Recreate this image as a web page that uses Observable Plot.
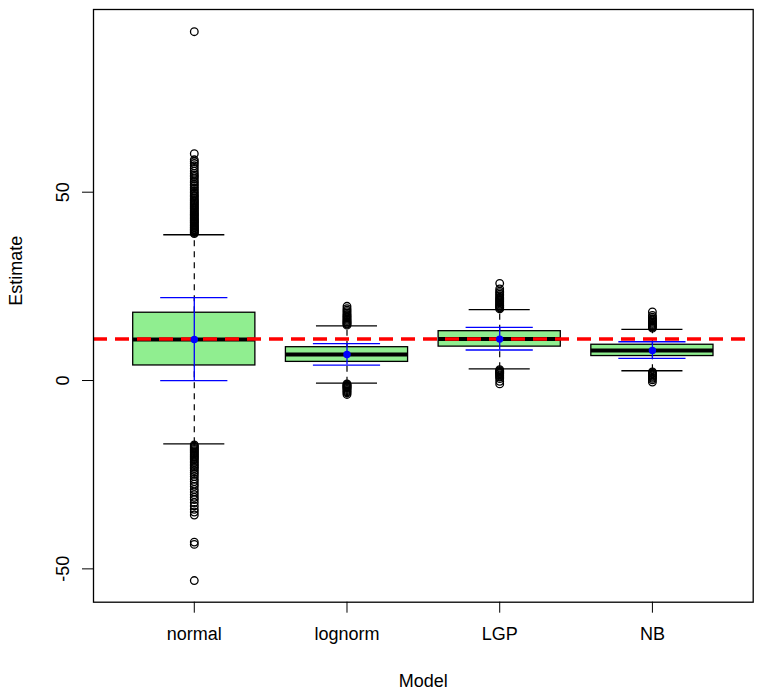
<!DOCTYPE html>
<html><head><meta charset="utf-8">
<script src="https://cdn.jsdelivr.net/npm/d3@7"></script>
<script src="https://cdn.jsdelivr.net/npm/@observablehq/plot@0.6"></script>
<style>
body{margin:0;background:#fff;}
#chart{width:762px;height:695px;}
</style>
</head><body><div id="chart"></div>
<script>
// ---- data ----
const models = ["normal", "lognorm", "LGP", "NB"];
const q1 = [4.0, 4.95, 9.0, 6.5];
const medians = [10.9, 6.9, 11.0, 8.0];
const q3 = [18.0, 8.85, 13.1, 9.5];
const whiskerLow = [-16.8, -0.7, 3.1, 2.6];
const whiskerHigh = [38.7, 14.5, 18.8, 13.6];
const means = [10.9, 6.9, 11.0, 8.0];
const ciLow = [0.0, 4.1, 8.1, 5.9];
const ciHigh = [22.0, 9.8, 14.1, 10.3];
const trueValue = 11;

const outliersNormal = [39.0,39.3,39.5,39.8,40.0,40.2,40.5,40.7,41.0,41.2,41.5,41.8,42.0,42.3,42.5,42.8,43.0,43.3,43.6,43.9,44.1,44.4,44.7,45.0,45.3,45.6,45.9,46.2,46.5,46.8,47.1,47.4,47.7,48.0,48.4,48.8,49.1,49.5,49.9,50.3,50.8,51.2,51.7,52.1,52.6,53.0,53.6,54.1,54.5,55.0,55.6,56.3,57.0,57.6,58.1,58.6,60.2,92.6,
  -17.1,-17.4,-17.7,-18.0,-18.3,-18.6,-18.9,-19.2,-19.5,-19.8,-20.1,-20.4,-20.7,-21.0,-21.4,-21.8,-22.2,-22.6,-23.0,-23.4,-23.9,-24.4,-24.9,-25.5,-26.2,-26.8,-27.5,-28.1,-28.9,-29.6,-30.3,-31.0,-31.6,-32.4,-33.3,-34.2,-34.9,-35.7,-42.9,-43.5,-53.1];
const outliersLognorm = [14.7,15.0,15.2,15.5,15.7,16.0,16.3,16.6,16.9,17.2,17.5,17.9,18.3,18.7,19.1,19.7,
  -0.9,-1.1,-1.3,-1.5,-1.7,-1.9,-2.1,-2.4,-2.7,-3.0,-3.3,-3.7];
const outliersLGP = [19.0,19.3,19.5,19.8,20.0,20.3,20.6,20.9,21.2,21.5,21.8,22.1,22.5,22.9,23.3,23.7,24.3,25.8,
  2.9,2.6,2.4,2.2,2.0,1.8,1.5,1.2,0.9,0.5,-0.2,-0.9];
const outliersNB = [13.9,14.2,14.4,14.7,14.9,15.2,15.5,15.8,16.1,16.4,16.8,17.3,18.2,
  2.3,2.0,1.8,1.5,1.2,0.9,0.6,0.2,-0.4];
const yTicks = [-50, 0, 50];

// ---- tables built from the arrays ----
const stats = models.map((m, i) => ({
  model: m, pos: i + 1,
  q1: q1[i], median: medians[i], q3: q3[i],
  lo: whiskerLow[i], hi: whiskerHigh[i],
  mean: means[i], ciLo: ciLow[i], ciHi: ciHigh[i]
}));
const outlierSets = [outliersNormal, outliersLognorm, outliersLGP, outliersNB];
const outliers = outlierSets.flatMap((arr, i) => arr.map(v => ({pos: i + 1, value: v})));

const boxHalf = 0.4, capHalf = 0.2, ciHalf = 0.22;
const font = "'Liberation Sans', Arial, Helvetica, sans-serif";

const chart = Plot.plot({
  width: 762, height: 695,
  marginLeft: 93, marginRight: 9.3, marginTop: 9, marginBottom: 93.3,
  style: {fontFamily: font, fontSize: "18px", background: "#fff", color: "#000"},
  x: {domain: [0.34, 4.66]},
  y: {domain: [-58.85, 98.5]},
  marks: [
    // whiskers (dashed)
    Plot.ruleX(stats, {x: "pos", y1: "q3", y2: "hi", stroke: "#000", strokeWidth: 1.2, strokeDasharray: "6,5"}),
    Plot.ruleX(stats, {x: "pos", y1: "lo", y2: "q1", stroke: "#000", strokeWidth: 1.2, strokeDasharray: "6,5"}),
    // staples
    Plot.ruleY(stats, {y: "hi", x1: d => d.pos - capHalf, x2: d => d.pos + capHalf, stroke: "#000", strokeWidth: 1.3}),
    Plot.ruleY(stats, {y: "lo", x1: d => d.pos - capHalf, x2: d => d.pos + capHalf, stroke: "#000", strokeWidth: 1.3}),
    // boxes
    Plot.rect(stats, {x1: d => d.pos - boxHalf, x2: d => d.pos + boxHalf, y1: "q1", y2: "q3", fill: "#90ee90", stroke: "#000", strokeWidth: 1.3}),
    // medians
    Plot.ruleY(stats, {y: "median", x1: d => d.pos - boxHalf, x2: d => d.pos + boxHalf, stroke: "#000", strokeWidth: 4}),
    // outliers
    Plot.dot(outliers, {x: "pos", y: "value", r: 3.8, stroke: "#000", strokeWidth: 1.3, fill: "none"}),
    // reference line
    Plot.ruleY([trueValue], {stroke: "#ff0000", strokeWidth: 3.5, strokeDasharray: "14,8"}),
    // mean +/- interval (blue)
    Plot.ruleX(stats, {x: "pos", y1: "ciLo", y2: "ciHi", stroke: "#0000ff", strokeWidth: 1.3}),
    Plot.ruleY(stats, {y: "ciHi", x1: d => d.pos - ciHalf, x2: d => d.pos + ciHalf, stroke: "#0000ff", strokeWidth: 1.3}),
    Plot.ruleY(stats, {y: "ciLo", x1: d => d.pos - ciHalf, x2: d => d.pos + ciHalf, stroke: "#0000ff", strokeWidth: 1.3}),
    Plot.dot(stats, {x: "pos", y: "mean", r: 3.7, fill: "#0000ff", stroke: "none"}),
    // frame + axes
    Plot.frame({stroke: "#000", strokeWidth: 1.3}),
    Plot.axisX({ticks: [1, 2, 3, 4], tickFormat: d => models[d - 1], tickSize: 11, tickPadding: 14, label: null, fontSize: 18}),
    Plot.axisY({ticks: yTicks, tickFormat: d => String(d), tickSize: 11, tickPadding: 14, tickRotate: -90, textAnchor: "middle", lineAnchor: "bottom", label: null, fontSize: 18}),
    Plot.text(["Model"], {frameAnchor: "bottom", dy: 85, fontSize: 18}),
    Plot.text(["Estimate"], {frameAnchor: "left", dx: -77, rotate: -90, fontSize: 18})
  ]
});
document.getElementById("chart").appendChild(chart);
</script>
</body></html>
